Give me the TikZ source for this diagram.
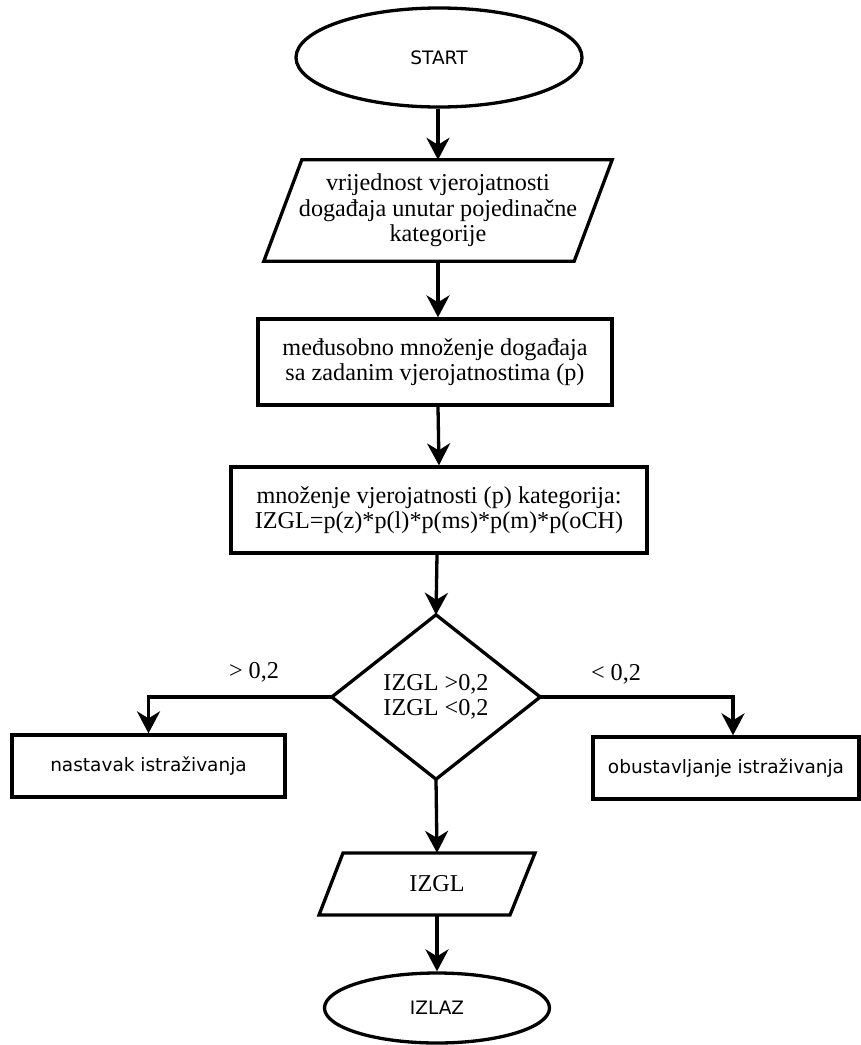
\documentclass[tikz,border=0pt]{standalone}
\usepackage{fontspec}
\setmainfont{Liberation Serif}
\newfontfamily\tahoma{DejaVu Sans}
\usetikzlibrary{shapes.geometric,arrows.meta,calc}
\begin{document}
\begin{tikzpicture}[x=1pt,y=-1pt,
  lw/.style={line width=3.3pt},
  arr/.style={lw,-{Stealth[length=22pt,width=23pt,inset=7pt]}},
  serif/.style={font=\fontsize{24.2}{25.5}\selectfont,align=center},
  sans/.style={font=\tahoma\fontsize{18.5}{22}\selectfont},
  term/.style={ellipse,draw,lw,sans,inner sep=0pt},
  box/.style={rectangle,draw,lw,inner sep=0pt},
  ghost/.style={rectangle,inner sep=0pt}]
\useasboundingbox (0,0) rectangle (861,1045);
\node[term,minimum width=286,minimum height=99] (s) at (439,57.5) {START};
\node[ghost,serif,minimum width=310,minimum height=101] (p1) at (438,210.5)
  {vrijednost vjerojatnosti\\doga\dj aja unutar pojedinačne\\kategorije};
\draw[lw] ($(p1.north west)+(19,0)$) -- ($(p1.north east)+(19,0)$)
  -- ($(p1.south east)+(-19,0)$) -- ($(p1.south west)+(-19,0)$) -- cycle;
\node[box,serif,minimum width=354,minimum height=86] (b2) at (435,362)
  {me\dj usobno množenje doga\dj aja\\sa zadanim vjerojatnostima (p)};
\node[box,serif,minimum width=416,minimum height=86] (b3) at (439,510)
  {množenje vjerojatnosti (p) kategorija:\\IZGL=p(z)*p(l)*p(ms)*p(m)*p(oCH)};
\node[ghost,serif,minimum width=208,minimum height=164] (d) at (436,697)
  {IZGL >0,2\\IZGL <0,2};
\draw[lw] (d.north) -- (d.east) -- (d.south) -- (d.west) -- cycle;
\node[box,sans,minimum width=273,minimum height=62] (l) at (148.5,766) {nastavak istraživanja};
\node[box,sans,minimum width=266,minimum height=62] (r) at (726,768) {obustavljanje istraživanja};
\node[ghost,serif,minimum width=60,minimum height=62] (p2) at (437,884) {IZGL};
\draw[lw] (343,853) -- (535,853) -- (510,915) -- (319,915) -- cycle;
\node[term,minimum width=225,minimum height=70] (e) at (437,1008) {IZLAZ};
\node[serif,inner sep=0pt] (lg) at (254,672) {> 0,2};
\node[serif,inner sep=0pt] (ls) at (616,674) {< 0,2};
\draw[arr] (s.south -| p1.north) -- (p1.north);
\draw[arr] (p1.south) -- (p1.south |- b2.north);
\draw[arr] ($(b2.south)+(3,0)$) -- (b3.north);
\draw[arr] ($(b3.south)+(-2,0)$) -- (d.north);
\draw[arr] (d.west) -| (l.north);
\draw[arr] (d.east) -| ($(r.north)+(7,0)$);
\draw[arr] (d.south) -- (p2.north);
\draw[arr] (p2.south) -- (e.north);
\end{tikzpicture}
\end{document}
